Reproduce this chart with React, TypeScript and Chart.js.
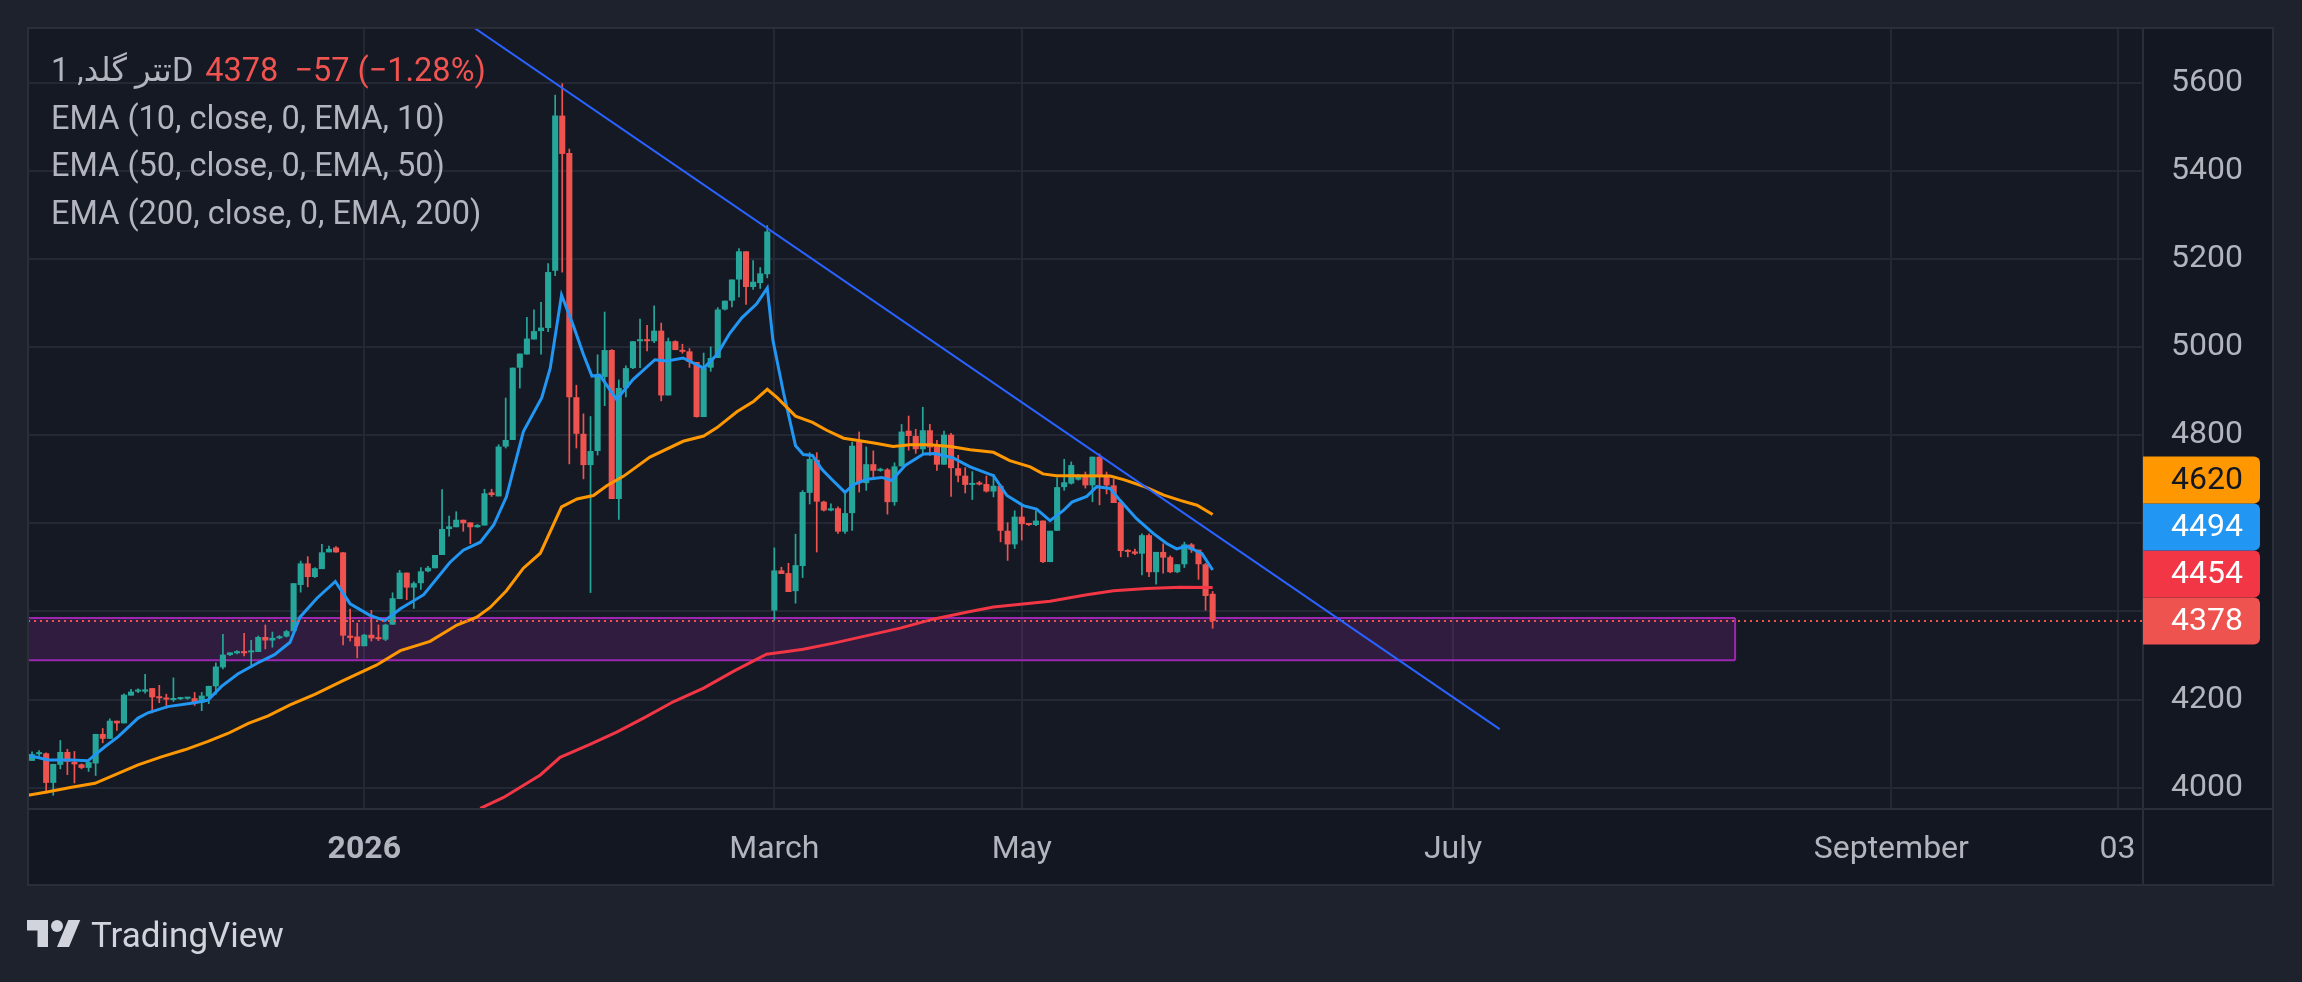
import React, { useEffect, useRef } from "react";
import { Chart, registerables } from "chart.js";

Chart.register(...registerables);

// ---------- data ----------
const firstBarIndex = -1;

const opens = [
  4163, 4061, 4076, 4078, 4011, 4052, 4081, 4059, 4053, 4045,
  4055, 4122, 4111, 4152, 4146, 4209, 4218, 4218, 4226, 4206,
  4203, 4199, 4201, 4202, 4203, 4193, 4207, 4230, 4273, 4301,
  4305, 4310, 4307, 4308, 4342, 4334, 4339, 4343, 4355, 4460,
  4509, 4478, 4496, 4534, 4545, 4534, 4345, 4343, 4321, 4347,
  4339, 4336, 4370, 4428, 4488, 4454, 4464, 4491, 4498, 4528,
  4587, 4591, 4608, 4602, 4591, 4595, 4670, 4661, 4774, 4789,
  4953, 4983, 5017, 5036, 5043, 5173, 5525, 5440, 4886, 4803,
  4732, 4764, 4932, 4993, 4655, 4907, 4952, 5013, 5015, 5013,
  5037, 4890, 5013, 4993, 4990, 4966, 4841, 4953, 4975, 5085,
  5105, 5153, 5217, 5136, 5145, 5165, 4402, 4493, 4487, 4446,
  4503, 4669, 4744, 4649, 4629, 4634, 4581, 4623, 4785, 4691,
  4734, 4719, 4722, 4648, 4729, 4810, 4798, 4768, 4811, 4776,
  4733, 4801, 4725, 4708, 4687, 4691, 4689, 4672, 4685, 4583,
  4552, 4615, 4598, 4596, 4606, 4512, 4583, 4682, 4690, 4699,
  4709, 4686, 4751, 4709, 4686, 4648, 4539, 4536, 4531, 4573,
  4489, 4535, 4523, 4489, 4507, 4552, 4540, 4507, 4440,
];
const highs = [
  4170, 4082, 4085, 4080, 4054, 4108, 4088, 4083, 4055, 4060,
  4122, 4135, 4157, 4152, 4214, 4224, 4225, 4258, 4226, 4233,
  4213, 4250, 4206, 4206, 4217, 4217, 4231, 4284, 4349, 4307,
  4312, 4351, 4335, 4345, 4370, 4354, 4346, 4358, 4464, 4515,
  4525, 4500, 4553, 4549, 4548, 4534, 4406, 4374, 4349, 4403,
  4370, 4372, 4443, 4494, 4488, 4468, 4500, 4503, 4528, 4677,
  4617, 4627, 4608, 4602, 4598, 4678, 4678, 4779, 4885, 4953,
  4985, 5068, 5085, 5102, 5190, 5572, 5598, 5450, 4914, 4849,
  4843, 4983, 5080, 4995, 4926, 4958, 5013, 5064, 5050, 5094,
  5055, 5021, 5015, 5007, 4997, 4966, 4987, 5001, 5090, 5105,
  5153, 5224, 5217, 5197, 5181, 5276, 4545, 4501, 4510, 4576,
  4675, 4761, 4761, 4651, 4645, 4638, 4670, 4785, 4808, 4774,
  4765, 4726, 4725, 4738, 4825, 4844, 4814, 4864, 4825, 4789,
  4810, 4805, 4755, 4727, 4718, 4696, 4708, 4712, 4689, 4602,
  4629, 4642, 4600, 4629, 4606, 4583, 4704, 4746, 4740, 4712,
  4717, 4751, 4758, 4717, 4701, 4648, 4541, 4542, 4577, 4577,
  4535, 4554, 4527, 4507, 4558, 4555, 4540, 4510, 4446,
];
const lows = [
  4060, 4061, 4070, 3987, 3982, 4042, 4029, 4010, 4042, 4036,
  4027, 4101, 4111, 4129, 4146, 4209, 4215, 4214, 4169, 4192,
  4180, 4195, 4199, 4200, 4186, 4174, 4190, 4211, 4269, 4299,
  4303, 4298, 4277, 4308, 4314, 4318, 4337, 4341, 4355, 4443,
  4455, 4476, 4496, 4534, 4533, 4323, 4332, 4294, 4321, 4332,
  4333, 4333, 4370, 4428, 4426, 4406, 4449, 4489, 4498, 4528,
  4570, 4591, 4581, 4553, 4590, 4595, 4660, 4661, 4770, 4789,
  4906, 4983, 5017, 4983, 5034, 5161, 5169, 4734, 4770, 4700,
  4442, 4754, 4866, 4655, 4608, 4886, 4950, 4952, 4990, 5009,
  4877, 4890, 4993, 4985, 4953, 4840, 4841, 4944, 4975, 5083,
  5090, 5113, 5096, 5130, 5132, 5156, 4379, 4485, 4444, 4418,
  4476, 4643, 4534, 4627, 4627, 4576, 4576, 4583, 4670, 4674,
  4704, 4717, 4620, 4640, 4729, 4765, 4758, 4755, 4753, 4719,
  4733, 4660, 4693, 4668, 4653, 4686, 4670, 4659, 4557, 4515,
  4542, 4561, 4594, 4594, 4510, 4512, 4583, 4674, 4688, 4697,
  4679, 4648, 4641, 4666, 4646, 4523, 4523, 4528, 4482, 4478,
  4461, 4486, 4487, 4487, 4499, 4533, 4472, 4402, 4361,
];
const closes = [
  4070, 4076, 4078, 4011, 4054, 4081, 4059, 4053, 4045, 4058,
  4122, 4111, 4152, 4146, 4211, 4218, 4220, 4223, 4205, 4203,
  4200, 4203, 4204, 4204, 4193, 4209, 4231, 4275, 4302, 4307,
  4310, 4305, 4310, 4342, 4334, 4340, 4343, 4355, 4464, 4509,
  4478, 4498, 4534, 4542, 4534, 4345, 4340, 4321, 4347, 4339,
  4337, 4370, 4430, 4488, 4454, 4464, 4491, 4499, 4528, 4587,
  4593, 4608, 4600, 4591, 4596, 4668, 4664, 4774, 4789, 4953,
  4985, 5019, 5036, 5044, 5170, 5525, 5438, 4886, 4803, 4732,
  4764, 4932, 4993, 4655, 4907, 4952, 5013, 5014, 5013, 5037,
  4890, 5013, 4993, 4989, 4966, 4841, 4953, 4975, 5085, 5105,
  5153, 5217, 5136, 5148, 5167, 5262, 4493, 4485, 4444, 4505,
  4671, 4746, 4649, 4629, 4634, 4581, 4623, 4776, 4691, 4734,
  4719, 4723, 4648, 4729, 4808, 4798, 4768, 4811, 4772, 4733,
  4801, 4725, 4708, 4687, 4689, 4688, 4672, 4685, 4583, 4552,
  4615, 4598, 4596, 4606, 4512, 4583, 4682, 4693, 4732, 4709,
  4686, 4751, 4705, 4686, 4646, 4537, 4535, 4531, 4573, 4489,
  4535, 4522, 4489, 4507, 4552, 4540, 4507, 4435, 4378,
];

const ema10X = [
  -0.57, 2.3, 5.6, 7.9, 10.3, 12.2, 15, 16.4, 19.2, 23, 24.9, 26.8, 29.1, 31.9,
  34.3, 36.5, 37.9, 40.3, 42.9, 45, 47.8, 49.9, 52.1, 55.4, 59.1, 61, 63.4, 65.3,
  67.1, 69.5, 72.1, 73.3, 74.9, 76.6, 78, 79.2, 80.3, 82.7, 85, 88.1, 89.8, 92.1,
  95, 96.9, 98.7, 100.4, 102.5, 104, 104.8, 106.3, 108, 109.1, 110.4, 111.7, 113.1,
  115, 116.2, 118.1, 120.2, 121.6, 123.5, 126.1, 127.7, 130.3, 132.7, 136, 137.9,
  140.2, 142.1, 144, 145.9, 147.1, 149.2, 150.6, 152.5, 153.9, 156.2, 158.6, 160.5,
  161.9, 163.3, 165.5, 167,
];
const ema10Y = [
  4074, 4063, 4063, 4061, 4093, 4116, 4158, 4170, 4184, 4193, 4199, 4230, 4258, 4283,
  4302, 4330, 4387, 4430, 4468, 4417, 4391, 4379, 4406, 4438, 4511, 4539, 4557, 4596,
  4660, 4808, 4885, 4952, 5118, 5047, 4983, 4934, 4936, 4881, 4926, 4971, 4968, 4975,
  4952, 4983, 5031, 5066, 5098, 5134, 5015, 4896, 4776, 4756, 4754, 4723, 4700,
  4670, 4688, 4700, 4704, 4697, 4731, 4757, 4758, 4748, 4728, 4708, 4663,
  4640, 4632, 4606, 4629, 4648, 4661, 4683, 4679, 4652, 4611, 4577, 4554,
  4542, 4548, 4531, 4494,
];

const ema50X = [
  -0.57, 2.3, 5.6, 8.9, 11.7, 15, 18.3, 21.6, 24.9, 27.7, 30.6, 33.4, 36.5, 40, 44,
  48.7, 52.1, 56.3, 60.1, 62.9, 64.8, 67.1, 69.5, 71.9, 74.9, 77.1, 79.4, 81.3, 83.7,
  87.4, 92.1, 95, 96.9, 99.7, 102.1, 104, 105.4, 108, 110.4, 112.4, 114.8, 117.1,
  119.5, 121.8, 124.2, 127, 129.9, 132.7, 136, 138.3, 141.2, 143, 144.9, 147.1,
  152.5, 154.4, 157.2, 160.1, 162.4, 164.8, 167,
];
const ema50Y = [
  3983, 3991, 4001, 4010, 4029, 4052, 4070, 4086, 4105, 4123, 4146, 4163, 4188, 4212, 4243,
  4278, 4311, 4332, 4369, 4387, 4409, 4447, 4498, 4532, 4637, 4655, 4663, 4685, 4707,
  4750, 4786, 4798, 4817, 4853, 4877, 4904, 4885, 4843, 4829, 4811, 4793, 4787,
  4781, 4774, 4778, 4778, 4774, 4767, 4761, 4742, 4728, 4712, 4708, 4708,
  4707, 4699, 4684, 4664, 4652, 4641, 4620,
];

const ema200X = [
  63.4, 66.7, 71.9, 74.7, 79, 82.7, 86.5, 90.7, 95, 99.2, 103.9, 106.3, 109.1, 113.4,
  118.1, 122.8, 127.6, 132.7, 136, 144, 149.2, 153, 157.7, 162.4, 167,
];
const ema200Y = [
  3953, 3978, 4029, 4069, 4099, 4126, 4158, 4195, 4226, 4264, 4303, 4308, 4314, 4328,
  4345, 4362, 4383, 4400, 4410, 4423, 4438, 4447, 4452, 4455, 4454,
];

const xTickPositions = [47, 105, 140, 201, 263, 295];
const xTickLabels = ["2026", "March", "May", "July", "September", "03"];
const yTickValues = [4000, 4200, 4400, 4600, 4800, 5000, 5200, 5400, 5600];
const yHiddenTicks = [4400, 4600];
const xRange = [-0.57, 298.6];
const yRange = [3951.7, 5723.7];

const zoneX = [-3, 240.9];
const zoneY = [4289, 4385];
const trendX = [58, 207.6];
const trendY = [5774, 4133];
const lastPrice = 4378;

const axisLabelValues = [4620, 4494, 4454, 4378];
const axisLabelColors = ["#ff9800", "#2196f3", "#f23645", "#ef5350"];
const axisLabelTextColors = ["#131722", "#ffffff", "#ffffff", "#ffffff"];

const symbolTitle = "تتر گلد, 1D";
const priceChange = "4378  −57 (−1.28%)";
const legendLines = [
  "EMA (10, close, 0, EMA, 10)",
  "EMA (50, close, 0, EMA, 50)",
  "EMA (200, close, 0, EMA, 200)",
];

// ---------- styling ----------
const FONT = "Roboto, 'DejaVu Sans', sans-serif";
const UP = "#26a69a";
const DOWN = "#ef5350";
const GRID = "#242834";
const FRAME = { left: 28, top: 28, right: 2273, bottom: 885 };

const panelPlugin = {
  id: "panel",
  beforeDraw(chart: any) {
    const { ctx, chartArea: a } = chart;
    ctx.save();
    ctx.fillStyle = "#1e222d";
    ctx.fillRect(0, 0, chart.width, chart.height);
    ctx.fillStyle = "#131722";
    ctx.fillRect(FRAME.left, FRAME.top, FRAME.right - FRAME.left, FRAME.bottom - FRAME.top);
    ctx.fillStyle = "#151924";
    ctx.fillRect(a.left, a.top, a.right - a.left, a.bottom - a.top);
    ctx.restore();
  },
  afterDraw(chart: any) {
    const { ctx, chartArea: a } = chart;
    ctx.save();
    ctx.strokeStyle = "#2a2e39";
    ctx.lineWidth = 2;
    ctx.strokeRect(FRAME.left, FRAME.top, FRAME.right - FRAME.left, FRAME.bottom - FRAME.top);
    ctx.beginPath();
    ctx.moveTo(FRAME.left, a.bottom);
    ctx.lineTo(FRAME.right, a.bottom);
    ctx.moveTo(a.right, FRAME.top);
    ctx.lineTo(a.right, FRAME.bottom);
    ctx.stroke();

    // price labels on the right axis, stacked so they do not overlap
    const ys = chart.scales.y;
    const h = 47;
    const w = 117;
    const items = axisLabelValues
      .map((v, i) => ({ v, i, y: ys.getPixelForValue(v) }))
      .sort((p, q) => q.y - p.y);
    let prev = Infinity;
    ctx.font = `32px ${FONT}`;
    ctx.textAlign = "center";
    ctx.textBaseline = "middle";
    for (const it of items) {
      const y = Math.min(it.y, prev - h);
      prev = y;
      ctx.fillStyle = axisLabelColors[it.i];
      ctx.beginPath();
      (ctx as any).roundRect(a.right, y - h / 2, w, h, [0, 6, 6, 0]);
      ctx.fill();
      ctx.fillStyle = axisLabelTextColors[it.i];
      ctx.fillText(String(it.v), a.right + 64, y + 1);
    }
    ctx.restore();
  },
};

export default function App() {
  const canvasRef = useRef<HTMLCanvasElement | null>(null);

  useEffect(() => {
    if (!canvasRef.current) return;
    const idx = opens.map((_, i) => firstBarIndex + i);
    const colors = closes.map((c, i) => (c >= opens[i] ? UP : DOWN));
    const line = (xs: number[], ysv: number[]) => xs.map((x, i) => ({ x, y: ysv[i] }));

    const chart = new Chart(canvasRef.current, {
      type: "bar",
      data: {
        datasets: [
          {
            type: "line",
            label: "zoneTop",
            data: zoneX.map((x) => ({ x, y: zoneY[1] })),
            borderColor: "#9c27b0",
            borderWidth: 2,
            pointRadius: 0,
            fill: false,
            order: 20,
            clip: 0,
          } as any,
          {
            type: "line",
            label: "zoneBottom",
            data: zoneX.map((x) => ({ x, y: zoneY[0] })),
            borderColor: "#9c27b0",
            borderWidth: 2,
            pointRadius: 0,
            fill: "-1",
            backgroundColor: "rgba(156,39,176,0.2)",
            order: 19,
            clip: 0,
          } as any,
          {
            type: "line",
            label: "zoneEdge",
            data: zoneY.map((y) => ({ x: zoneX[1], y })),
            borderColor: "#9c27b0",
            borderWidth: 2,
            pointRadius: 0,
            order: 18,
            clip: 0,
          } as any,
          {
            type: "bar",
            label: "wicks",
            data: idx.map((x, i) => ({ x, y: [lows[i], highs[i]] })),
            backgroundColor: colors,
            barThickness: 1.7,
            grouped: false,
            inflateAmount: 0,
            order: 6,
            clip: 0,
          } as any,
          {
            type: "bar",
            label: "bodies",
            data: idx.map((x, i) => ({ x, y: [opens[i], closes[i]] })),
            backgroundColor: colors,
            categoryPercentage: 1,
            barPercentage: 0.86,
            minBarLength: 2,
            grouped: false,
            order: 5,
            clip: 0,
          } as any,
          {
            type: "line",
            label: "EMA 200",
            data: line(ema200X, ema200Y),
            borderColor: "#f23645",
            borderWidth: 3,
            pointRadius: 0,
            order: 4,
            clip: 0,
          } as any,
          {
            type: "line",
            label: "EMA 50",
            data: line(ema50X, ema50Y),
            borderColor: "#ff9800",
            borderWidth: 3,
            pointRadius: 0,
            order: 3,
            clip: 0,
          } as any,
          {
            type: "line",
            label: "EMA 10",
            data: line(ema10X, ema10Y),
            borderColor: "#2196f3",
            borderWidth: 3,
            pointRadius: 0,
            order: 3,
            clip: 0,
          } as any,
          {
            type: "line",
            label: "last",
            data: xRange.map((x) => ({ x, y: lastPrice })),
            borderColor: "#ef5350",
            borderWidth: 2,
            borderDash: [2, 4],
            pointRadius: 0,
            order: 2,
            clip: 0,
          } as any,
          {
            type: "line",
            label: "trend",
            data: line(trendX, trendY),
            borderColor: "#2962ff",
            borderWidth: 2,
            pointRadius: 0,
            order: 1,
            clip: 0,
          } as any,
        ],
      },
      options: {
        animation: false,
        responsive: true,
        maintainAspectRatio: false,
        devicePixelRatio: 1,
        events: [],
        layout: { padding: { left: 28, top: 28, right: 29, bottom: 97 } },
        plugins: { legend: { display: false }, tooltip: { enabled: false } },
        scales: {
          x: {
            type: "linear",
            position: "bottom",
            min: xRange[0],
            max: xRange[1],
            offset: false,
            afterBuildTicks: (s: any) => {
              s.ticks = xTickPositions.map((v) => ({ value: v }));
            },
            afterFit: (s: any) => {
              s.height = 76;
              s.paddingLeft = 0;
              s.paddingRight = 0;
            },
            ticks: {
              autoSkip: false,
              maxRotation: 0,
              padding: 22,
              color: "#b2b5be",
              font: (c: any) => ({ family: FONT, size: 32, weight: c.index === 0 ? "bold" : "normal" }),
              callback: (_v: any, i: number) => xTickLabels[i],
            },
            grid: { color: GRID, lineWidth: 2, drawTicks: false, offset: false },
            border: { display: false },
          },
          y: {
            type: "linear",
            position: "right",
            min: yRange[0],
            max: yRange[1],
            afterBuildTicks: (s: any) => {
              s.ticks = yTickValues.map((v) => ({ value: v }));
            },
            afterFit: (s: any) => {
              s.width = 130;
              s.paddingTop = 0;
              s.paddingBottom = 0;
            },
            ticks: {
              padding: 28,
              color: "#b2b5be",
              font: { family: FONT, size: 32 },
              callback: (v: any) => (yHiddenTicks.includes(Number(v)) ? "" : String(v)),
            },
            grid: { color: GRID, lineWidth: 2, drawTicks: false },
            border: { display: false },
          },
        } as any,
      } as any,
      plugins: [panelPlugin],
    });
    return () => chart.destroy();
  }, []);

  return (
    <div
      style={{
        position: "fixed",
        left: 0,
        top: 0,
        width: 2302,
        height: 982,
        background: "#1e222d",
        overflow: "hidden",
      }}
    >
      <div style={{ position: "absolute", left: 0, top: 0, width: 2302, height: 982 }}>
        <canvas ref={canvasRef} />
      </div>
      <div
        style={{
          position: "absolute",
          left: 51,
          top: 47,
          fontFamily: FONT,
          fontSize: 32.5,
          lineHeight: "47.5px",
          color: "#b2b5be",
          whiteSpace: "pre",
          pointerEvents: "none",
        }}
      >
        <div>
          <span>{symbolTitle}</span>
          <span style={{ color: "#f05350", marginLeft: 12 }}>{priceChange}</span>
        </div>
        {legendLines.map((l) => (
          <div key={l}>{l}</div>
        ))}
      </div>
      <svg
        style={{ position: "absolute", left: 27, top: 914 }}
        width={54}
        height={42}
        viewBox="0 0 36 28"
      >
        <path d="M14 22H7V11H0V4h14v18z" fill="#d1d4dc" />
        <path d="M28 22h-8l7.5-18h8L28 22z" fill="#d1d4dc" />
        <circle cx={20} cy={8} r={4} fill="#d1d4dc" />
      </svg>
      <div
        style={{
          position: "absolute",
          left: 91,
          top: 916,
          fontFamily: FONT,
          fontSize: 35,
          lineHeight: "40px",
          color: "#d1d4dc",
        }}
      >
        TradingView
      </div>
    </div>
  );
}
